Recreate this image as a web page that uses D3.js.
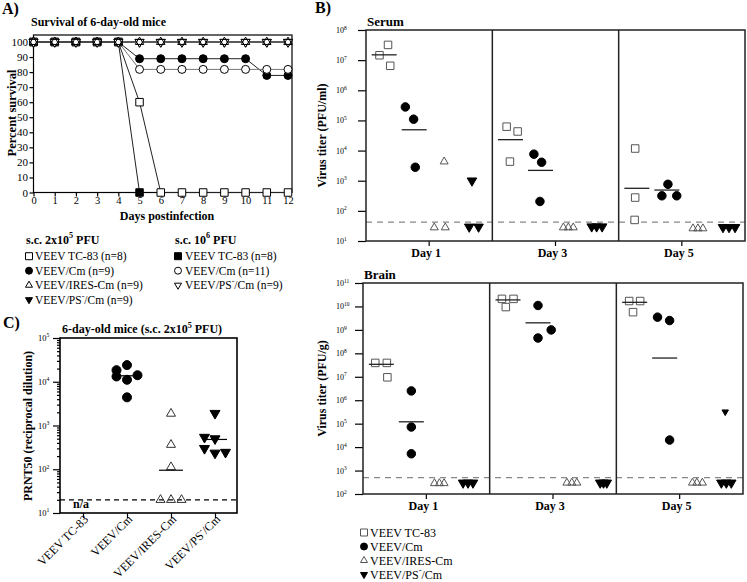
<!DOCTYPE html>
<html><head><meta charset="utf-8">
<script src="https://cdn.jsdelivr.net/npm/d3@7/dist/d3.min.js"></script>
<style>
body{margin:0;background:#fff}
svg{display:block}
svg text{font-family:"Liberation Serif","Times New Roman",Times,serif;fill:#000}
</style></head><body>
<svg id="fig" width="747" height="582"></svg>
<script>
// ================= DATA =================
// ---- Panel A: percent survival by day postinfection ----
const daysA = [0,1,2,3,4,5,6,7,8,9,10,11,12];
const ticksAy = [0,10,20,30,40,50,60,70,80,90,100];
const survTC83_2e5 = [100,100,100,100,100,60,0,0,0,0,0,0,0];
const survCm_2e5   = [100,100,100,100,100,88.9,88.9,88.9,88.9,88.9,88.9,77.8,77.8];
const survIRES_2e5 = [100,100,100,100,100,100,100,100,100,100,100,100,100];
const survPS_2e5   = [100,100,100,100,100,100,100,100,100,100,100,100,100];
const survTC83_1e6 = [100,100,100,100,100,0];
const survCm_1e6   = [100,100,100,100,100,81.8,81.8,81.8,81.8,81.8,81.8,81.8,81.8];
const survPS_1e6   = [100,100,100,100,100,100,100,100,100,100,100,100,100];
const legendLowTitle  = "s.c. 2x10^{5} PFU";
const legendHighTitle = "s.c. 10^{6} PFU";
const legendLow  = ["VEEV TC-83 (n=8)","VEEV/Cm (n=9)","VEEV/IRES-Cm (n=9)","VEEV/PS^{-}/Cm (n=9)"];
const legendHigh = ["VEEV TC-83 (n=8)","VEEV/Cm (n=11)","VEEV/PS^{-}/Cm (n=9)"];

// ---- Panel B: virus titers ----
const groupNames = ["VEEV TC-83","VEEV/Cm","VEEV/IRES-Cm","VEEV/PS^{-}/Cm"];
const dayLabels  = ["Day 1","Day 3","Day 5"];
// serum (PFU/ml): [day][mouse]
const serumTC83 = [[3.2e7,1.45e7,6.5e6],[6.2e4,4.3e4,4.3e3],[1.17e4,276,50]];
const serumCm   = [[2.8e5,1.1e5,2.8e3],[7.6e3,4.1e3,205],[760,316,316]];
const serumIRES = [[4.3e3,28,28],[28,28,28],[26,26,26]];
const serumPS   = [[1000,29.5,29.5],[30,30,30],[28.5,28.5,28.5]];
// jitter slot of each mouse (side-by-side placement index)
const serumTC83Slot = [[0.7,-0.85,1.1],[-0.7,1.3,-0.1],[-0.3,-0.3,-0.4]];
const serumCmSlot   = [[-1.6,-0.1,0.2],[-1.2,0.2,-0.1],[0.2,-0.9,1.8]];
const serumIRESSlot = [[0,-1.8,0.2],[-1.3,-0.4,0.5],[-0.7,0.2,1.1]];
const serumPSSlot   = [[-0.4,-0.9,0.8],[-1.6,-0.7,0.3],[-0.7,0.4,1.5]];
const serumMeanTC83 = [1.5e7,2.3e4,560];
const serumMeanCm   = [4.9e4,2.2e3,490];
const serumLOD = 42;
const serumTicks = [1e1,1e2,1e3,1e4,1e5,1e6,1e7,1e8];
// brain (PFU/g)
const brainTC83 = [[3.9e7,3.9e7,9.5e6],[2.1e10,2.1e10,9.4e9],[1.7e10,1.7e10,5.7e9]];
const brainCm   = [[2.5e6,7.2e4,5.2e3],[1.1e10,1.0e9,4.5e8],[3.5e9,2.5e9,2.0e4]];
const brainIRES = [[285,285,285],[300,300,300],[300,300,300]];
const brainPS   = [[300,300,300],[300,300,300],[300,300,300,3.2e5]];
const brainTC83Slot = [[-1.1,1.0,1.1],[-1.1,1.0,-0.4],[-1.0,1.0,-0.3]];
const brainCmSlot   = [[0,0,0],[0,2.4,0],[-1.3,0.9,0.9]];
const brainIRESSlot = [[-1.25,-0.35,0.5],[-0.2,0.7,1.6],[-0.4,0.4,1.4]];
const brainPSSlot   = [[-1.5,-0.6,0.3],[0.4,1.0,1.6],[-0.6,0.3,1.2,0.1]];
const brainMeanTC83 = [3.4e7,1.9e10,1.5e10];
const brainMeanCm   = [1.2e5,2.0e9,6.3e7];
const brainLOD = 500;
const brainTicks = [1e2,1e3,1e4,1e5,1e6,1e7,1e8,1e9,1e10,1e11];

// ---- Panel C: PRNT50 ----
const prntGroups = ["VEEV TC-83","VEEV/Cm","VEEV/IRES-Cm","VEEV/PS^{-}/Cm"];
const prntCm   = [18400,24000,13200,11100,14100,4400];
const prntIRES = [1870,363,112,20,20,20];
const prntPS   = [1900,540,500,300,235,245];
const prntCmSlot   = [-1,0,-1,0,1,0];
const prntIRESSlot = [0,0,0,-1,0,1];
const prntPSSlot   = [0,-1,0,-1,0,1];
const prntMean = [null,13700,95,480];
const prntLOD = 20;
const prntTicks = [1e1,1e2,1e3,1e4,1e5];

// ================= DRAWING =================
const svg = d3.select("#fig");
const SERIF = '"Liberation Serif","Times New Roman",Times,serif';

function rich(t, str, fs) {
  t.attr("font-size", fs);
  const parts = str.split(/(\^\{[^}]*\})/).filter(s => s.length);
  let shifted = false;
  parts.forEach(p => {
    const m = p.match(/^\^\{([^}]*)\}$/);
    if (m) {
      t.append("tspan").attr("dy", -fs*0.42).attr("font-size", fs*0.68).text(m[1]);
      shifted = true;
    } else {
      const ts = t.append("tspan").text(p);
      if (shifted) { ts.attr("dy", fs*0.42); shifted = false; }
    }
  });
  return t;
}
function txt(g, x, y, str, fs, opts = {}) {
  const t = g.append("text").attr("x", x).attr("y", y);
  if (opts.bold) t.attr("font-weight", "bold");
  if (opts.anchor) t.attr("text-anchor", opts.anchor);
  if (opts.transform) t.attr("transform", opts.transform);
  return rich(t, str, fs);
}
const R3 = Math.sqrt(3);
function shapePath(shape, s) {
  const h = s*R3/2;
  switch (shape) {
    case "square": return `M${-s/2},${-s/2}h${s}v${s}h${-s}Z`;
    case "circle": { const r = s/2; return `M${r},0A${r},${r} 0 1,1 ${-r},0A${r},${r} 0 1,1 ${r},0Z`; }
    case "triUp": return `M0,${-2*h/3}L${s/2},${h/3}L${-s/2},${h/3}Z`;
    case "triDown": return `M0,${2*h/3}L${s/2},${-h/3}L${-s/2},${-h/3}Z`;
  }
}
const ST = {
  sqOpen:   {shape:"square", fill:"#fff", stroke:"#000", size:7.5},
  sqFill:   {shape:"square", fill:"#000", stroke:"#000", size:7.5},
  cirFill:  {shape:"circle", fill:"#000", stroke:"#000", size:8},
  cirOpen:  {shape:"circle", fill:"#fff", stroke:"#000", size:8},
  triUpOpen:{shape:"triUp", fill:"none", stroke:"#000", size:8.5},
  triDnFill:{shape:"triDown", fill:"#000", stroke:"#000", size:9},
  triDnOpen:{shape:"triDown", fill:"#fff", stroke:"#000", size:9}
};
function marker(g, x, y, st, size, stroke) {
  g.append("path").attr("transform", `translate(${x},${y})`)
    .attr("d", shapePath(st.shape, size || st.size))
    .attr("fill", st.fill).attr("stroke", stroke || st.stroke).attr("stroke-width", 1);
}
function styleAxis(a, fs) {
  a.attr("font-family", SERIF).attr("font-size", fs);
  a.selectAll(".domain").remove();
  a.selectAll("line").attr("stroke", "#000").attr("stroke-width", 1.2);
  a.selectAll("text").attr("fill", "#000");
}

// ---------- Panel A ----------
const gA = svg.append("g");
txt(gA, 2, 14, "A)", 16, {bold:true});
txt(gA, 31, 26, "Survival of 6-day-old mice", 12, {bold:true});
const xA = d3.scaleLinear().domain([0,12]).range([33.5,288]);
const yA = d3.scaleLinear().domain([0,100]).range([192.5,42]);
const axXA = gA.append("g").attr("transform","translate(0,192.5)")
  .call(d3.axisBottom(xA).tickValues(daysA).tickSize(4).tickPadding(0).tickFormat(d3.format("d")));
styleAxis(axXA, 10.5);
const axYA = gA.append("g").attr("transform","translate(33.5,0)")
  .call(d3.axisLeft(yA).tickValues(ticksAy).tickSize(4).tickPadding(1.5));
styleAxis(axYA, 11);
gA.append("rect").attr("x",33.5).attr("y",35).attr("width",292-33.5).attr("height",192.5-35)
  .attr("fill","none").attr("stroke","#000").attr("stroke-width",1.2);
txt(gA, 167, 220, "Days postinfection", 12, {bold:true, anchor:"middle"});
txt(gA, 0, 0, "Percent survival", 12.5, {bold:true, anchor:"middle", transform:"translate(16,113) rotate(-90)"});

const seriesA = [
  {vals: survTC83_1e6, st: ST.sqFill,   line:"#222"},
  {vals: survCm_2e5,   st: ST.cirFill,  line:"#222"},
  {vals: survPS_2e5,   st: ST.triDnFill,line:"#444"},
  {vals: survTC83_2e5, st: ST.sqOpen,   line:"#222"},
  {vals: survCm_1e6,   st: ST.cirOpen,  line:"#777"},
  {vals: survPS_1e6,   st: ST.triDnOpen,line:"#444"},
  {vals: survIRES_2e5, st: ST.triUpOpen,line:"#444"}
];
const lineA = d3.line().x((d,i) => xA(daysA[i])).y(d => yA(d));
seriesA.forEach(s => {
  gA.append("path").attr("d", lineA(s.vals)).attr("fill","none").attr("stroke", s.line).attr("stroke-width",1);
});
seriesA.forEach(s => {
  s.vals.forEach((v,i) => marker(gA, xA(daysA[i]), yA(v), s.st));
});

// legend A
const lowStyles = [ST.sqOpen, ST.cirFill, ST.triUpOpen, ST.triDnFill];
const highStyles = [ST.sqFill, ST.cirOpen, ST.triDnOpen];
const legY = d3.scalePoint().domain([0,1,2,3]).range([260,303.5]);
txt(gA, 26, 243.5, legendLowTitle, 12, {bold:true});
legendLow.forEach((l,i) => {
  marker(gA, 29, legY(i)-3.8, lowStyles[i], 7);
  txt(gA, 35, legY(i), l, 11.5);
});
txt(gA, 175, 243.5, legendHighTitle, 12, {bold:true});
legendHigh.forEach((l,i) => {
  marker(gA, 178, legY(i)-3.8, highStyles[i], 7);
  txt(gA, 185, legY(i), l, 11.5);
});

// ---------- Panel C ----------
const gC = svg.append("g");
txt(gC, 3, 328, "C)", 16, {bold:true});
txt(gC, 62, 333, "6-day-old mice  (s.c. 2x10^{5} PFU)", 12, {bold:true});
const xC = d3.scalePoint().domain(prntGroups).range([83,215]);
const yC = d3.scaleLog().domain([10,1e5]).range([513,338]);
// minor ticks
const minorC = [];
prntTicks.slice(0,-1).forEach(t => { for (let k=2;k<10;k++) minorC.push(t*k); });
const axMinC = gC.append("g").attr("transform","translate(60,0)")
  .call(d3.axisLeft(yC).tickValues(minorC).tickSize(3).tickFormat(""));
styleAxis(axMinC, 8.5);
const axYC = gC.append("g").attr("transform","translate(60,0)")
  .call(d3.axisLeft(yC).tickValues(prntTicks).tickSize(7).tickFormat(""));
styleAxis(axYC, 8.5);
prntTicks.forEach(t => {
  txt(gC, 38, yC(t)+3, "10^{" + Math.round(Math.log10(t)) + "}", 8.5);
});
const axXC = gC.append("g").attr("transform","translate(0,513)")
  .call(d3.axisBottom(xC).tickSize(5).tickFormat(""));
styleAxis(axXC, 12);
prntGroups.forEach(gname => {
  txt(gC, 0, 0, gname, 12, {anchor:"end", transform:`translate(${xC(gname)+6},520) rotate(-45)`});
});
gC.append("rect").attr("x",60).attr("y",338).attr("width",177).attr("height",175)
  .attr("fill","none").attr("stroke","#000").attr("stroke-width",1.6);
txt(gC, 0, 0, "PRNT50 (reciprocal dilution)", 12, {bold:true, anchor:"middle", transform:"translate(32,426) rotate(-90)"});
gC.append("line").attr("x1",60).attr("x2",237).attr("y1",yC(prntLOD)).attr("y2",yC(prntLOD))
  .attr("stroke","#000").attr("stroke-width",1.3).attr("stroke-dasharray","5,4");
txt(gC, 73, 508, "n/a", 12, {bold:true});
const slotC = 10.5, halfC = 12;
const prntSets = [
  {g: prntGroups[1], vals: prntCm, slots: prntCmSlot, st: ST.cirFill, size: 9},
  {g: prntGroups[2], vals: prntIRES, slots: prntIRESSlot, st: ST.triUpOpen, size: 9},
  {g: prntGroups[3], vals: prntPS, slots: prntPSSlot, st: ST.triDnFill, size: 10}
];
prntSets.forEach(s => {
  s.vals.forEach((v,i) => marker(gC, xC(s.g) + s.slots[i]*slotC, yC(v), s.st, s.size, s.st.fill==="none" ? "#333" : null));
});
prntMean.forEach((m,i) => {
  if (m == null) return;
  const cx = xC(prntGroups[i]);
  gC.append("line").attr("x1",cx-halfC).attr("x2",cx+halfC).attr("y1",yC(m)).attr("y2",yC(m))
    .attr("stroke","#000").attr("stroke-width",1.2);
});

// ---------- Panel B ----------
const gB = svg.append("g");
txt(gB, 315, 13, "B)", 16, {bold:true});
const grpOff = d3.scalePoint().domain(groupNames).range([-45,45]);
const SLOT = 5.5, HALF = 12.5;

function titerPanel(cfg) {
  const g = gB.append("g");
  const xB = d3.scaleBand().domain(dayLabels).range([cfg.x0, cfg.x1]).padding(0);
  const yB = d3.scaleLog().domain(cfg.domain).range([cfg.y1, cfg.y0]);
  txt(g, cfg.x0 + 1, cfg.y0 - 4, cfg.title, 13, {bold:true});
  const ay = g.append("g").attr("transform",`translate(${cfg.x0},0)`)
    .call(d3.axisLeft(yB).tickValues(cfg.ticks).tickSize(8).tickFormat(""));
  styleAxis(ay, 8);
  cfg.ticks.forEach(t => txt(g, 336, yB(t)+3, "10^{" + Math.round(Math.log10(t)) + "}", 8));
  const ax = g.append("g").attr("transform",`translate(0,${cfg.y1})`)
    .call(d3.axisBottom(xB).tickSize(5).tickFormat(""));
  styleAxis(ax, 12);
  dayLabels.forEach(d => txt(g, xB(d) + xB.bandwidth()/2 - 3, cfg.y1 + 16, d, 12, {bold:true, anchor:"middle"}));
  txt(g, 0, 0, cfg.ylabel, 12, {bold:true, anchor:"middle",
    transform:`translate(326,${(cfg.y0+cfg.y1)/2}) rotate(-90)`});
  // LOD
  g.append("line").attr("x1",cfg.x0).attr("x2",cfg.x1).attr("y1",yB(cfg.lod)).attr("y2",yB(cfg.lod))
    .attr("stroke","#888").attr("stroke-width",1.3).attr("stroke-dasharray","6,5");
  // frame and dividers
  g.append("rect").attr("x",cfg.x0).attr("y",cfg.y0).attr("width",cfg.x1-cfg.x0).attr("height",cfg.y1-cfg.y0)
    .attr("fill","none").attr("stroke","#222").attr("stroke-width",1.5);
  dayLabels.slice(1).forEach(d => {
    g.append("line").attr("x1",xB(d)).attr("x2",xB(d)).attr("y1",cfg.y0).attr("y2",cfg.y1)
      .attr("stroke","#222").attr("stroke-width",1.5);
  });
  // data
  cfg.sets.forEach(s => {
    s.vals.forEach((dayVals, di) => {
      const cx = xB(dayLabels[di]) + xB.bandwidth()/2 + grpOff(s.g);
      dayVals.forEach((v, k) => {
        // isolated high point above detection limit drawn smaller in the original (brain day 5)
        const sz = (s.smallAbove && k >= 3) ? 6.5 : s.size;
        marker(g, cx + s.slots[di][k]*SLOT, yB(v), s.st, sz, s.stroke);
      });
    });
  });
  cfg.means.forEach(m => {
    m.vals.forEach((v, di) => {
      const cx = xB(dayLabels[di]) + xB.bandwidth()/2 + grpOff(m.g);
      g.append("line").attr("x1",cx-HALF).attr("x2",cx+HALF).attr("y1",yB(v)).attr("y2",yB(v))
        .attr("stroke","#222").attr("stroke-width",1.3);
    });
  });
}
const stB = [
  {st: ST.sqOpen, size: 7.5, stroke:"#555"},
  {st: ST.cirFill, size: 8.5},
  {st: ST.triUpOpen, size: 8, stroke:"#555"},
  {st: ST.triDnFill, size: 9.5}
];
titerPanel({
  x0:366, x1:745, y0:30, y1:241, domain:[10,1e8], ticks: serumTicks,
  title:"Serum", ylabel:"Virus titer (PFU/ml)", lod: serumLOD,
  sets:[
    {g:groupNames[0], vals:serumTC83, slots:serumTC83Slot, ...stB[0]},
    {g:groupNames[1], vals:serumCm, slots:serumCmSlot, ...stB[1]},
    {g:groupNames[2], vals:serumIRES, slots:serumIRESSlot, ...stB[2]},
    {g:groupNames[3], vals:serumPS, slots:serumPSSlot, ...stB[3]}
  ],
  means:[{g:groupNames[0], vals:serumMeanTC83},{g:groupNames[1], vals:serumMeanCm}]
});
titerPanel({
  x0:363, x1:743, y0:283, y1:494, domain:[100,1e11], ticks: brainTicks,
  title:"Brain", ylabel:"Virus titer (PFU/g)", lod: brainLOD,
  sets:[
    {g:groupNames[0], vals:brainTC83, slots:brainTC83Slot, ...stB[0]},
    {g:groupNames[1], vals:brainCm, slots:brainCmSlot, ...stB[1]},
    {g:groupNames[2], vals:brainIRES, slots:brainIRESSlot, ...stB[2]},
    {g:groupNames[3], vals:brainPS, slots:brainPSSlot, ...stB[3], smallAbove:true}
  ],
  means:[{g:groupNames[0], vals:brainMeanTC83},{g:groupNames[1], vals:brainMeanCm}]
});
// legend B
const legBY = d3.scalePoint().domain([0,1,2,3]).range([536.5,578.5]);
groupNames.forEach((gname,i) => {
  marker(gB, 364, legBY(i)-4, stB[i].st, 7, stB[i].stroke);
  txt(gB, 370, legBY(i), gname, 12);
});
</script></body></html>
